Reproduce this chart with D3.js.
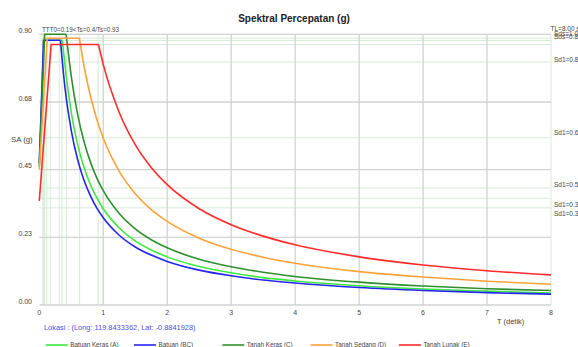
<!DOCTYPE html>
<html>
<head>
<meta charset="utf-8">
<script src="https://cdn.jsdelivr.net/npm/d3@7"></script>
<style>
  body { margin: 0; background: #fff; }
  svg { display: block; font-family: "Liberation Sans", Arial, sans-serif; }
</style>
</head>
<body>
<div id="chart"></div>
<script>
// series: [T (detik), SA (g)]
const seriesNames = ["Batuan Keras (A)", "Batuan (BC)", "Tanah Keras (C)", "Tanah Sedang (D)", "Tanah Lunak (E)"];
const seriesColors = ["#3ee83e", "#2525f0", "#2f8f2f", "#ffa238", "#ff2b2b"];

const batuanKeras = [[0, 0.47], [0.072, 0.88], [0.36, 0.88], [0.4, 0.80], [0.5, 0.64], [0.6, 0.533], [0.7, 0.457], [0.8, 0.40], [0.9, 0.356], [1, 0.32], [1.25, 0.256], [1.5, 0.213], [1.75, 0.183], [2, 0.16], [2.5, 0.128], [3, 0.107], [3.5, 0.091], [4, 0.08], [5, 0.064], [6, 0.053], [7, 0.046], [8, 0.04]];
const batuan = [[0, 0.47], [0.066, 0.88], [0.33, 0.88], [0.4, 0.725], [0.5, 0.58], [0.6, 0.483], [0.7, 0.414], [0.8, 0.363], [0.9, 0.322], [1, 0.29], [1.25, 0.232], [1.5, 0.193], [1.75, 0.166], [2, 0.145], [2.5, 0.116], [3, 0.097], [3.5, 0.083], [4, 0.073], [5, 0.058], [6, 0.048], [7, 0.041], [8, 0.036]];
const tanahKeras = [[0, 0.46], [0.084, 0.90], [0.42, 0.90], [0.5, 0.76], [0.6, 0.633], [0.7, 0.543], [0.8, 0.475], [0.9, 0.422], [1, 0.38], [1.25, 0.304], [1.5, 0.253], [1.75, 0.217], [2, 0.19], [2.5, 0.152], [3, 0.127], [3.5, 0.109], [4, 0.095], [5, 0.076], [6, 0.063], [7, 0.054], [8, 0.048]];
const tanahSedang = [[0, 0.45], [0.125, 0.887], [0.626, 0.887], [0.7, 0.793], [0.8, 0.694], [0.9, 0.617], [1, 0.555], [1.25, 0.444], [1.5, 0.37], [1.75, 0.317], [2, 0.278], [2.5, 0.222], [3, 0.185], [3.5, 0.159], [4, 0.139], [5, 0.111], [6, 0.093], [7, 0.079], [8, 0.069]];
const tanahLunak = [[0, 0.346], [0.185, 0.866], [0.925, 0.866], [1, 0.80], [1.25, 0.64], [1.5, 0.533], [1.75, 0.457], [2, 0.40], [2.5, 0.32], [3, 0.267], [3.5, 0.229], [4, 0.20], [5, 0.16], [6, 0.133], [7, 0.114], [8, 0.10]];
const seriesData = [batuanKeras, batuan, tanahKeras, tanahSedang, tanahLunak];

// light green guide lines (T0 / Ts and Sds / Sd1)
const guideT = [0.054, 0.072, 0.084, 0.117, 0.17, 0.313, 0.356, 0.425, 0.63, 0.92, 8];
const guideSA = [0.90, 0.887, 0.879, 0.866, 0.808, 0.556, 0.389, 0.355, 0.323];

const xTicks = [0, 1, 2, 3, 4, 5, 6, 7, 8];
const yTicks = [0, 0.225, 0.45, 0.675, 0.9];

const rightLabels = ["TL=8.00 s", "Sds=1.00", "Sds=0.89", "Sd1=0.81", "Sd1=0.62", "Sd1=0.59", "Sd1=0.33", "Sd1=0.30"];
const rightLabelSA = [0.917, 0.90, 0.889, 0.812, 0.572, 0.399, 0.330, 0.3025];
const topLabel = "TTT0=0.19<Ts=0.4/Ts=0.93";
const lokasi = "Lokasi :  (Long: 119.8433362, Lat: -0.8841928)";

const W = 578, H = 347;
const svg = d3.select("#chart").append("svg").attr("width", W).attr("height", H);

const x = d3.scaleLinear().domain([0, 8]).range([39.3, 551]);
const y = d3.scaleLinear().domain([0, 0.9]).range([305, 34.3]);

svg.append("text")
    .attr("x", 294).attr("y", 19)
    .attr("text-anchor", "middle").attr("dominant-baseline", "middle")
    .style("font-size", "10px").style("font-weight", "bold").style("fill", "#222")
    .text("Spektral Percepatan (g)");

// guides
svg.selectAll(".gv").data(guideT).join("line")
    .attr("x1", d => x(d)).attr("x2", d => x(d))
    .attr("y1", y(0.9)).attr("y2", y(0))
    .style("stroke", "#d6ead6").style("stroke-width", 1);
svg.selectAll(".gh").data(guideSA).join("line")
    .attr("x1", x(0)).attr("x2", x(8))
    .attr("y1", d => y(d)).attr("y2", d => y(d))
    .style("stroke", "#d6ead6").style("stroke-width", 1);

// gray grid
svg.selectAll(".vx").data(xTicks.slice(1, 8)).join("line")
    .attr("x1", d => x(d)).attr("x2", d => x(d))
    .attr("y1", y(0.9)).attr("y2", y(0))
    .style("stroke", "#d2d2d2").style("stroke-width", 1.3);
svg.selectAll(".hy").data(yTicks).join("line")
    .attr("x1", x(0)).attr("x2", x(8))
    .attr("y1", d => y(d)).attr("y2", d => y(d))
    .style("stroke", "#d2d2d2").style("stroke-width", 1.3);

// tick labels
svg.selectAll(".xl").data(xTicks).join("text")
    .attr("x", d => x(d)).attr("y", 313)
    .attr("text-anchor", "middle").attr("dominant-baseline", "middle")
    .style("font-size", "7px").style("fill", "#444")
    .text(d => d);
svg.selectAll(".yl").data(yTicks).join("text")
    .attr("x", 32).attr("y", d => y(d) - 3.3)
    .attr("text-anchor", "end").attr("dominant-baseline", "middle")
    .style("font-size", "7px").style("fill", "#444")
    .text(d => d.toFixed(2));

svg.append("text").attr("x", 11).attr("y", 140).attr("dominant-baseline", "middle")
    .style("font-size", "7.8px").style("fill", "#444").text("SA (g)");
svg.append("text").attr("x", 497).attr("y", 322.5).attr("dominant-baseline", "middle")
    .style("font-size", "7.5px").style("fill", "#444").text("T (detik)");

// curves: linear rise + plateau, smooth descent
const lineLin = d3.line().x(d => x(d[0])).y(d => y(d[1]));
const lineDec = d3.line().x(d => x(d[0])).y(d => y(d[1])).curve(d3.curveMonotoneX);
seriesData.forEach((pts, i) => {
    const g = svg.append("g")
        .style("fill", "none").style("stroke", seriesColors[i]).style("stroke-width", 1.6);
    g.append("path").attr("d", lineLin(pts.slice(0, 3)));
    g.append("path").attr("d", lineDec(pts.slice(2)));
});

// labels on guides
svg.append("text").attr("x", 42).attr("y", 30).attr("dominant-baseline", "middle")
    .attr("textLength", 77).attr("lengthAdjust", "spacingAndGlyphs")
    .style("font-size", "7px").style("fill", "#444").text(topLabel);
svg.selectAll(".rl").data(rightLabels).join("text")
    .attr("x", (d, i) => i === 0 ? 550.5 : 554)
    .attr("y", (d, i) => y(rightLabelSA[i]))
    .attr("dominant-baseline", "middle")
    .style("font-size", "6.5px").style("fill", "#444")
    .text(d => d);

svg.append("text").attr("x", 44).attr("y", 328).attr("dominant-baseline", "middle")
    .style("font-size", "7.4px").style("fill", "#4f4fdc").text(lokasi);

// legend
const leg = svg.selectAll(".leg").data(seriesNames).join("g")
    .attr("transform", (d, i) => `translate(${45.7 + i * 88.3},345)`);
leg.append("line").attr("x1", 0).attr("x2", 22).attr("y1", 0).attr("y2", 0)
    .style("stroke", (d, i) => seriesColors[i]).style("stroke-width", 1.6);
leg.append("text").attr("x", 24.5).attr("y", 0).attr("dominant-baseline", "middle")
    .style("font-size", "6.3px").style("fill", "#444").text(d => d);
</script>
</body>
</html>
